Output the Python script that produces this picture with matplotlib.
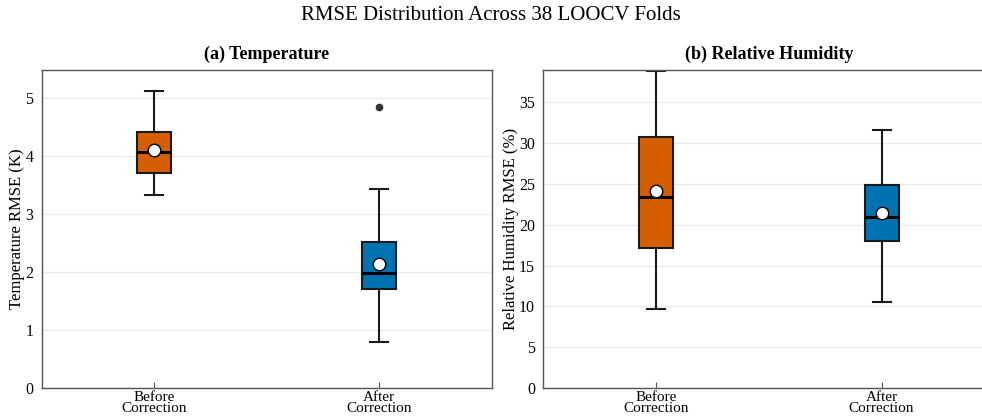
import numpy as np
import matplotlib
matplotlib.use('Agg')
import matplotlib.pyplot as plt

plt.rcParams['font.family'] = ['Liberation Serif', 'DejaVu Serif']

# Box statistics (RMSE over 38 LOOCV folds)
labels = ['Before\nCorrection', 'After\nCorrection']

temp_whislo = [3.32, 0.80]
temp_q1 = [3.71, 1.71]
temp_med = [4.06, 1.99]
temp_mean = [4.10, 2.13]
temp_q3 = [4.41, 2.52]
temp_whishi = [5.11, 3.43]
temp_fliers = [[], [4.84]]

rh_whislo = [9.7, 10.5]
rh_q1 = [17.1, 17.95]
rh_med = [23.4, 21.0]
rh_mean = [24.1, 21.4]
rh_q3 = [30.8, 24.9]
rh_whishi = [38.85, 31.65]
rh_fliers = [[], []]

colors = ['#D55E00', '#0072B2']


def make_stats(whislo, q1, med, mean, q3, whishi, fliers):
    stats = []
    for i in range(len(labels)):
        stats.append(dict(whislo=whislo[i], q1=q1[i], med=med[i], mean=mean[i],
                          q3=q3[i], whishi=whishi[i], fliers=fliers[i], label=labels[i]))
    return stats


def draw(ax, stats, ylim, yticks, ylabel, title, label_x):
    bp = ax.bxp(stats, positions=[1, 2], widths=0.15, patch_artist=True,
                showmeans=True, showfliers=True,
                boxprops=dict(edgecolor='#1a1a1a', linewidth=1.5),
                medianprops=dict(color='black', linewidth=2.2),
                whiskerprops=dict(color='#1a1a1a', linewidth=1.5),
                capprops=dict(color='#1a1a1a', linewidth=1.5),
                capwidths=0.08,
                meanprops=dict(marker='o', markerfacecolor='white', markeredgecolor='black',
                               markersize=9, markeredgewidth=1.0),
                flierprops=dict(marker='o', markerfacecolor='#333333', markeredgecolor='#333333',
                                markersize=4.5))
    for patch, c in zip(bp['boxes'], colors):
        patch.set_facecolor(c)
    ax.set_xlim(0.5, 2.5)
    ax.set_ylim(*ylim)
    ax.set_yticks(yticks)
    ax.yaxis.grid(True, color='#ebebeb', linewidth=1.0)
    ax.set_axisbelow(True)
    for s in ax.spines.values():
        s.set_color('#555555')
        s.set_linewidth(1.0)
    ax.tick_params(axis='both', direction='in', length=4, labelsize=11.5, color='#555555')
    ax.tick_params(axis='y', length=0, pad=6)
    ax.tick_params(axis='x', top=False, pad=2, labelsize=11)
    for t in ax.get_xticklabels():
        t.set_linespacing(0.85)
    ax.set_ylabel(ylabel, fontsize=12)
    ax.yaxis.set_label_coords(label_x, 0.5)
    ax.set_title(title, fontsize=13, fontweight='bold', pad=8)


fig = plt.figure(figsize=(9.82, 4.18), dpi=100)
ax1 = fig.add_axes([0.0425, 0.0718, 0.4582, 0.7608])
ax2 = fig.add_axes([0.5533, 0.0718, 0.4593, 0.7608])

draw(ax1, make_stats(temp_whislo, temp_q1, temp_med, temp_mean, temp_q3, temp_whishi, temp_fliers),
     (0, 5.48), [0, 1, 2, 3, 4, 5], 'Temperature RMSE (K)', '(a) Temperature', -0.037)
draw(ax2, make_stats(rh_whislo, rh_q1, rh_med, rh_mean, rh_q3, rh_whishi, rh_fliers),
     (0, 38.95), [0, 5, 10, 15, 20, 25, 30, 35], 'Relative Humidity RMSE (%)',
     '(b) Relative Humidity', -0.054)

fig.suptitle('RMSE Distribution Across 38 LOOCV Folds', fontsize=15, y=0.985)

fig.savefig('out.png', dpi=100)
